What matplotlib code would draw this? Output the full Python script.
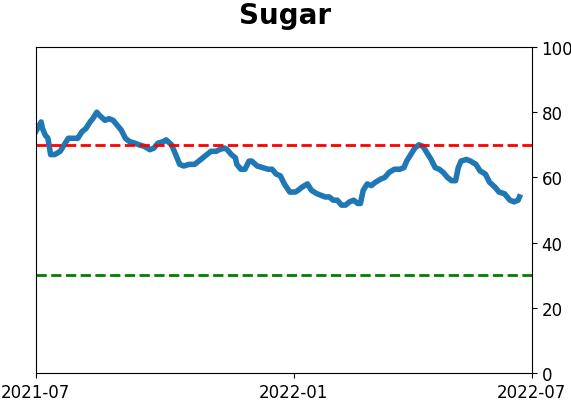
import numpy as np
import pandas as pd
import matplotlib
matplotlib.use("Agg")
import matplotlib.pyplot as plt
import matplotlib.dates as mdates

TITLE = "Sugar"

# Values
dates = [
    "2021-07-01", "2021-07-03", "2021-07-05", "2021-07-06", "2021-07-08", "2021-07-10",
    "2021-07-12", "2021-07-15", "2021-07-19", "2021-07-22", "2021-07-25", "2021-07-30",
    "2021-08-01", "2021-08-04", "2021-08-07", "2021-08-10", "2021-08-12", "2021-08-15",
    "2021-08-17", "2021-08-21", "2021-08-24", "2021-08-27", "2021-08-30", "2021-09-02",
    "2021-09-05", "2021-09-08", "2021-09-12", "2021-09-15", "2021-09-19", "2021-09-23",
    "2021-09-26", "2021-09-29", "2021-10-03", "2021-10-05", "2021-10-09", "2021-10-12",
    "2021-10-15", "2021-10-18", "2021-10-22", "2021-10-26", "2021-10-29", "2021-11-01",
    "2021-11-04", "2021-11-07", "2021-11-11", "2021-11-13", "2021-11-17", "2021-11-19",
    "2021-11-22", "2021-11-25", "2021-11-26", "2021-11-29", "2021-12-02", "2021-12-05",
    "2021-12-07", "2021-12-11", "2021-12-15", "2021-12-19", "2021-12-22", "2021-12-25",
    "2021-12-28", "2021-12-31", "2022-01-04", "2022-01-08", "2022-01-10", "2022-01-13",
    "2022-01-17", "2022-01-20", "2022-01-24", "2022-01-27", "2022-01-30", "2022-02-02",
    "2022-02-05", "2022-02-08", "2022-02-11", "2022-02-14", "2022-02-17", "2022-02-20",
    "2022-02-23", "2022-02-25", "2022-02-27", "2022-03-02", "2022-03-05", "2022-03-08",
    "2022-03-12", "2022-03-15", "2022-03-18", "2022-03-22", "2022-03-26", "2022-03-29",
    "2022-03-31", "2022-04-03", "2022-04-06", "2022-04-09", "2022-04-12", "2022-04-15",
    "2022-04-18", "2022-04-21", "2022-04-24", "2022-04-27", "2022-04-30", "2022-05-03",
    "2022-05-06", "2022-05-08", "2022-05-10", "2022-05-14", "2022-05-17", "2022-05-21",
    "2022-05-24", "2022-05-28", "2022-05-31", "2022-06-04", "2022-06-07", "2022-06-11",
    "2022-06-15", "2022-06-18", "2022-06-21", "2022-06-22",
]

values = [
    74, 75.5, 77, 75, 73, 72,
    67, 67, 68, 70, 72, 72,
    72, 74, 75, 77, 78, 80,
    79, 77.5, 78, 77.5, 76, 74.5,
    72, 71, 70.5, 70, 69.5, 68.5,
    69, 70.5, 71, 71.5, 70, 67,
    64, 63.5, 64, 64, 65, 66,
    67, 68, 68, 68.5, 69, 68.5,
    67, 66, 64, 62.5, 62.5, 65,
    65, 63.5, 63, 62.5, 62.5, 61,
    60.5, 58, 55.5, 55.5, 56, 57,
    58, 56, 55, 54.5, 54, 54,
    53, 53, 51.5, 51.5, 52.5, 53,
    52, 52, 56, 58, 57.5, 58.5,
    59.5, 60, 61.5, 62.5, 62.5, 63,
    65, 67, 69, 70, 69.5, 67.5,
    65.5, 63, 62.5, 61.5, 60, 59,
    59, 63, 65, 65.5, 65, 64,
    62, 61, 58.5, 57, 55.5, 55,
    53, 52.5, 53, 54,
]

upper_level = 70
lower_level = 30

x_start = "2021-07-01"
x_end = "2022-07-01"
tick_dates = ["2021-07-01", "2022-01-07", "2022-07-01"]

dates = pd.to_datetime(dates)

fig = plt.figure(figsize=(5.71, 4.02), dpi=100)
ax = fig.add_axes([0.0625, 0.0697, 0.8686, 0.8109])

ax.plot(dates, values, color="#1f77b4", linewidth=4)
ax.axhline(upper_level, color="red", linestyle="--", linewidth=2)
ax.axhline(lower_level, color="green", linestyle="--", linewidth=2)

ax.set_xlim(pd.Timestamp(x_start), pd.Timestamp(x_end))
ax.set_ylim(0, 100)
ax.set_xticks(pd.to_datetime(tick_dates))
ax.xaxis.set_major_formatter(mdates.DateFormatter("%Y-%m"))

ax.yaxis.tick_right()
ax.set_yticks([0, 20, 40, 60, 80, 100])
ax.tick_params(axis="both", labelsize=12)

fig.suptitle(TITLE, fontsize=20, fontweight="bold", y=0.995)

fig.savefig("out.png", dpi=100)
